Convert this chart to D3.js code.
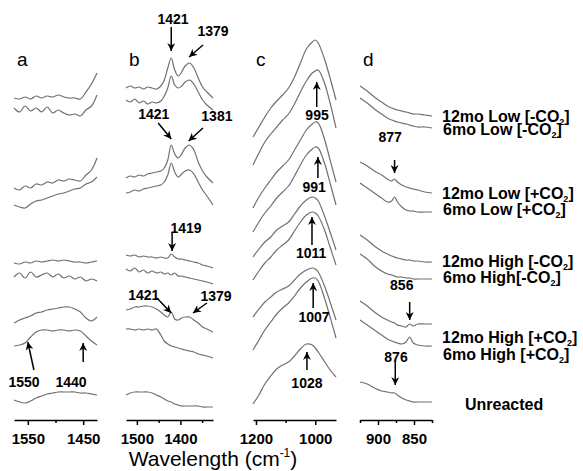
<!DOCTYPE html>
<html>
<head>
<meta charset="utf-8">
<script src="https://cdn.jsdelivr.net/npm/d3@7"></script>
<style>
  html, body { margin: 0; padding: 0; background: #fff; }
  svg { display: block; }
  text { font-family: "Liberation Sans", Arial, sans-serif; fill: #000; }
</style>
</head>
<body>
<div id="chart"></div>
<script>
// samples, top to bottom in every panel
const samples = ["12mo Low [-CO2]", "6mo Low [-CO2]", "12mo Low [+CO2]", "6mo Low [+CO2]",
                 "12mo High [-CO2]", "6mo High[-CO2]", "12mo High [+CO2]", "6mo High [+CO2]", "Unreacted"];

// wavenumber grids (cm-1)
const wnA = [1575, 1565, 1555, 1545, 1535, 1525, 1515, 1505, 1495, 1485, 1475, 1465, 1455, 1445, 1435, 1425];
const wnB = [1525, 1515, 1505, 1495, 1485, 1475, 1465, 1455, 1445, 1437, 1429, 1421, 1413, 1405, 1397, 1389, 1379, 1369, 1359, 1349, 1339, 1325];
const wnC = [1210, 1190, 1170, 1150, 1130, 1110, 1090, 1070, 1050, 1030, 1010, 1000, 990, 970, 950, 930];
const wnD = [925, 915, 905, 895, 887, 881, 877, 873, 867, 861, 856, 851, 845, 835, 825];

// absorbance (a.u., stacked with offsets), one row per sample
const absA = [
  [322, 321, 323, 321, 324, 322, 324, 323, 325, 323, 322, 322, 321, 328, 336, 347],
  [312, 308, 314, 309, 312, 308, 313, 307, 310, 307, 305, 306, 304, 310, 314, 325],
  [232, 230, 234, 232, 236, 235, 238, 237, 240, 239, 241, 240, 239, 245, 250, 262],
  [215, 213, 212, 216, 219, 220, 222, 224, 226, 227, 229, 231, 232, 236, 238, 243],
  [157, 156, 158, 157, 159, 158, 159, 160, 159, 160, 159, 158, 158, 157, 158, 159],
  [143, 147, 142, 148, 143, 145, 147, 143, 146, 142, 144, 141, 143, 139, 141, 139],
  [97, 100, 102, 104, 107, 108, 110, 111, 112, 113, 113, 111, 108, 102, 99, 103],
  [74, 75, 77, 83, 88, 90, 90, 89, 90, 90, 89, 90, 89, 84, 79, 75],
  [20, 18, 17, 19, 22, 24, 26, 27, 28, 28, 28, 28, 27, 27, 26, 25]
];
const absB = [
  [332, 334, 332, 333, 331, 333, 332, 331, 334, 340, 352, 362, 350, 344, 348, 354, 357, 352, 342, 333, 328, 322],
  [320, 318, 321, 317, 319, 316, 318, 317, 319, 324, 332, 344, 335, 332, 334, 338, 340, 336, 328, 320, 315, 310],
  [242, 244, 243, 245, 244, 246, 247, 248, 249, 252, 260, 275, 266, 262, 266, 272, 275, 270, 258, 249, 243, 237],
  [227, 228, 230, 229, 231, 232, 233, 234, 235, 238, 245, 257, 248, 243, 246, 249, 250, 246, 238, 230, 224, 215],
  [165, 164, 165, 163, 164, 163, 163, 162, 163, 162, 162, 166, 163, 161, 161, 160, 159, 158, 157, 155, 154, 152],
  [151, 149, 152, 148, 150, 147, 149, 147, 148, 146, 147, 145, 147, 144, 144, 143, 142, 141, 140, 139, 138, 136],
  [110, 111, 113, 113, 114, 114, 113, 111, 108, 105, 103, 108, 101, 100, 102, 103, 103, 100, 97, 93, 91, 88],
  [91, 91, 90, 91, 90, 91, 90, 91, 85, 79, 76, 74, 73, 72, 71, 70, 69, 68, 66, 65, 64, 62],
  [25, 27, 28, 28, 28, 28, 27, 25, 23, 21, 19, 18, 16, 15, 14, 14, 14, 14, 14, 13, 13, 13]
];
const absC = [
  [283, 293, 303, 312, 319, 325, 332, 343, 357, 371, 378, 380, 377, 362, 342, 320],
  [255, 267, 278, 286, 293, 300, 306, 316, 328, 339, 347, 349, 350, 338, 317, 292],
  [212, 223, 232, 240, 248, 254, 260, 270, 280, 290, 296, 298, 297, 282, 260, 238],
  [188, 198, 207, 214, 222, 228, 234, 244, 255, 265, 271, 273, 272, 258, 237, 215],
  [163, 171, 178, 183, 190, 194, 198, 206, 214, 220, 223, 222, 219, 205, 188, 170],
  [140, 149, 157, 163, 170, 175, 180, 189, 198, 205, 208, 207, 204, 191, 173, 155],
  [103, 111, 118, 123, 128, 131, 134, 140, 146, 150, 152, 151, 148, 135, 118, 100],
  [70, 80, 90, 98, 106, 112, 117, 124, 132, 138, 142, 142, 139, 123, 103, 82],
  [16, 25, 36, 44, 51, 55, 58, 64, 71, 76, 75, 72, 68, 59, 50, 43]
];
const absD = [
  [334, 329, 323, 318, 314, 312, 311, 310, 309, 308, 307, 306, 306, 305, 304],
  [322, 317, 311, 306, 302, 300, 299, 298, 297, 296, 295, 294, 293, 293, 292],
  [258, 254, 249, 245, 241, 239, 241, 238, 235, 233, 232, 231, 230, 228, 227],
  [237, 232, 227, 222, 218, 219, 223, 218, 213, 210, 209, 209, 208, 208, 208],
  [185, 180, 174, 169, 166, 164, 163, 162, 161, 160, 160, 159, 159, 158, 158],
  [166, 161, 154, 149, 146, 145, 144, 143, 143, 142, 142, 141, 141, 141, 141],
  [119, 114, 108, 103, 100, 98, 97, 95, 94, 93, 96, 94, 96, 96, 96],
  [100, 95, 90, 85, 81, 79, 78, 77, 76, 78, 83, 77, 75, 74, 74],
  [38, 36, 32, 29, 28, 27, 27, 25, 22, 20, 19, 18, 18, 18, 18]
];

// peak annotations: label position, arrow tail and tip as [wavenumber, absorbance]
const notesA = [
  {text: "1550", at: [1557, 38], from: [1539, 50], to: [1550, 78]},
  {text: "1440", at: [1472, 38], from: [1450, 58], to: [1450, 77]}
];
const notesB = [
  {text: "1421", at: [1417, 401], from: [1421, 393], to: [1421, 369]},
  {text: "1379", at: [1325, 389], from: [1348, 375], to: [1380, 363]},
  {text: "1421", at: [1461, 306], from: [1451, 297], to: [1421, 281]},
  {text: "1381", at: [1316, 304], from: [1348, 292], to: [1381, 279]},
  {text: "1419", at: [1387, 192], from: [1419, 188], to: [1419, 169]},
  {text: "1421", at: [1484, 125], from: [1454, 122], to: [1421, 107]},
  {text: "1379", at: [1318, 124], from: [1339, 117], to: [1371, 107]}
];
const notesC = [
  {text: "995", at: [994, 305], from: [995, 313], to: [995, 338]},
  {text: "991", at: [1004, 233], from: [991, 242], to: [991, 263]},
  {text: "1011", at: [1014, 167], from: [1011, 175], to: [1011, 203]},
  {text: "1007", at: [1004, 103], from: [1007, 112], to: [1007, 137]},
  {text: "1028", at: [1028, 37], from: [1028, 50], to: [1028, 68]}
];
const notesD = [
  {text: "877", at: [883, 283], from: [877, 260], to: [877, 247]},
  {text: "856", at: [867, 135], from: [856, 118], to: [856, 100]},
  {text: "876", at: [875, 63], from: [876, 58], to: [876, 35]}
];

// axis ticks
const majorA = [1550, 1450], minorA = [1500];
const majorB = [1500, 1400], minorB = [1450, 1350];
const majorC = [1200, 1000], minorC = [1100];
const majorD = [900, 850], minorD = [925, 875, 825];

const panels = [
  {letter: "a", wn: wnA, abs: absA, notes: notesA, major: majorA, minor: minorA, domain: [1575, 1425], range: [14, 97]},
  {letter: "b", wn: wnB, abs: absB, notes: notesB, major: majorB, minor: minorB, domain: [1525, 1325], range: [126, 213]},
  {letter: "c", wn: wnC, abs: absC, notes: notesC, major: majorC, minor: minorC, domain: [1210, 930], range: [253, 336]},
  {letter: "d", wn: wnD, abs: absD, notes: notesD, major: majorD, minor: minorD, domain: [925, 825], range: [360, 432]}
];

const W = 583, H = 471;
const axisY = 420;
const legendBase = [122, 135, 199, 215, 267, 283, 343, 360, 410];
const legendX = [442, 443, 442, 443, 442, 443, 442, 443, 465];

const svg = d3.select('#chart').append('svg')
  .attr('width', W)
  .attr('height', H)
  .style('background', '#fff');

svg.append('defs').append('marker')
  .attr('id', 'head')
  .attr('viewBox', '0 0 10 10')
  .attr('refX', 10).attr('refY', 5)
  .attr('markerUnits', 'userSpaceOnUse')
  .attr('markerWidth', 9).attr('markerHeight', 8)
  .attr('orient', 'auto')
  .append('path')
  .attr('d', 'M0,0 L10,5 L0,10 L3,5 Z')
  .attr('fill', '#000');

const y = d3.scaleLinear().domain([0, 400]).range([axisY, 20]);

panels.forEach(p => {
  const x = d3.scaleLinear().domain(p.domain).range(p.range);
  const line = d3.line()
    .x(d => x(d[0]))
    .y(d => y(d[1]))
    .curve(d3.curveCatmullRom.alpha(0.5));

  const g = svg.append('g');

  g.selectAll('path.trace')
    .data(p.abs)
    .enter().append('path')
    .attr('class', 'trace')
    .attr('d', row => line(row.map((v, i) => [p.wn[i], v])))
    .attr('fill', 'none')
    .attr('stroke', '#707070')
    .attr('stroke-width', 1.2);

  // axis
  const ax = g.append('g').attr('transform', `translate(0,${axisY})`);
  ax.call(d3.axisBottom(x).tickValues(p.major).tickSize(5).tickSizeOuter(0).tickPadding(8).tickFormat(d3.format('d')));
  ax.select('.domain').attr('stroke-width', 1.5);
  ax.selectAll('.tick line').attr('stroke-width', 1.5);
  ax.selectAll('.tick text')
    .attr('font-size', 15)
    .attr('font-weight', 'bold')
    .attr('font-family', '"Liberation Sans", Arial, sans-serif')
    .attr('fill', '#000');

  const mn = g.append('g').attr('transform', `translate(0,${axisY})`);
  mn.call(d3.axisBottom(x).tickValues(p.minor).tickSize(3).tickSizeOuter(0).tickFormat(() => ''));
  mn.select('.domain').remove();
  mn.selectAll('.tick line').attr('stroke-width', 1.5);

  // panel letter
  g.append('text')
    .attr('x', p.range[0] + 3)
    .attr('y', 66)
    .attr('font-size', 19)
    .text(p.letter);

  // annotations
  p.notes.forEach(n => {
    g.append('line')
      .attr('x1', x(n.from[0])).attr('y1', y(n.from[1]))
      .attr('x2', x(n.to[0])).attr('y2', y(n.to[1]))
      .attr('stroke', '#000')
      .attr('stroke-width', 1.5)
      .attr('marker-end', 'url(#head)');
    g.append('text')
      .attr('x', x(n.at[0]))
      .attr('y', y(n.at[1]))
      .attr('dy', '0.36em')
      .attr('text-anchor', 'middle')
      .attr('font-size', 14)
      .attr('font-weight', 'bold')
      .text(n.text);
  });
});

// sample labels with subscript 2
samples.forEach((s, i) => {
  const t = svg.append('text')
    .attr('x', legendX[i])
    .attr('y', legendBase[i])
    .attr('font-size', 16)
    .attr('font-weight', 'bold');
  const k = s.indexOf('CO2');
  if (k < 0) {
    t.text(s);
    return;
  }
  t.append('tspan').text(s.slice(0, k + 2));
  t.append('tspan').attr('font-size', 9).attr('dy', 3).text('2');
  t.append('tspan').attr('dy', -3).text(s.slice(k + 3));
});

// axis title
const title = svg.append('text')
  .attr('x', 213)
  .attr('y', 466)
  .attr('text-anchor', 'middle')
  .attr('font-size', 21);
title.append('tspan').text('Wavelength (cm');
title.append('tspan').attr('font-size', 12).attr('dy', -9).text('-1');
title.append('tspan').attr('dy', 9).text(')');
</script>
</body>
</html>
